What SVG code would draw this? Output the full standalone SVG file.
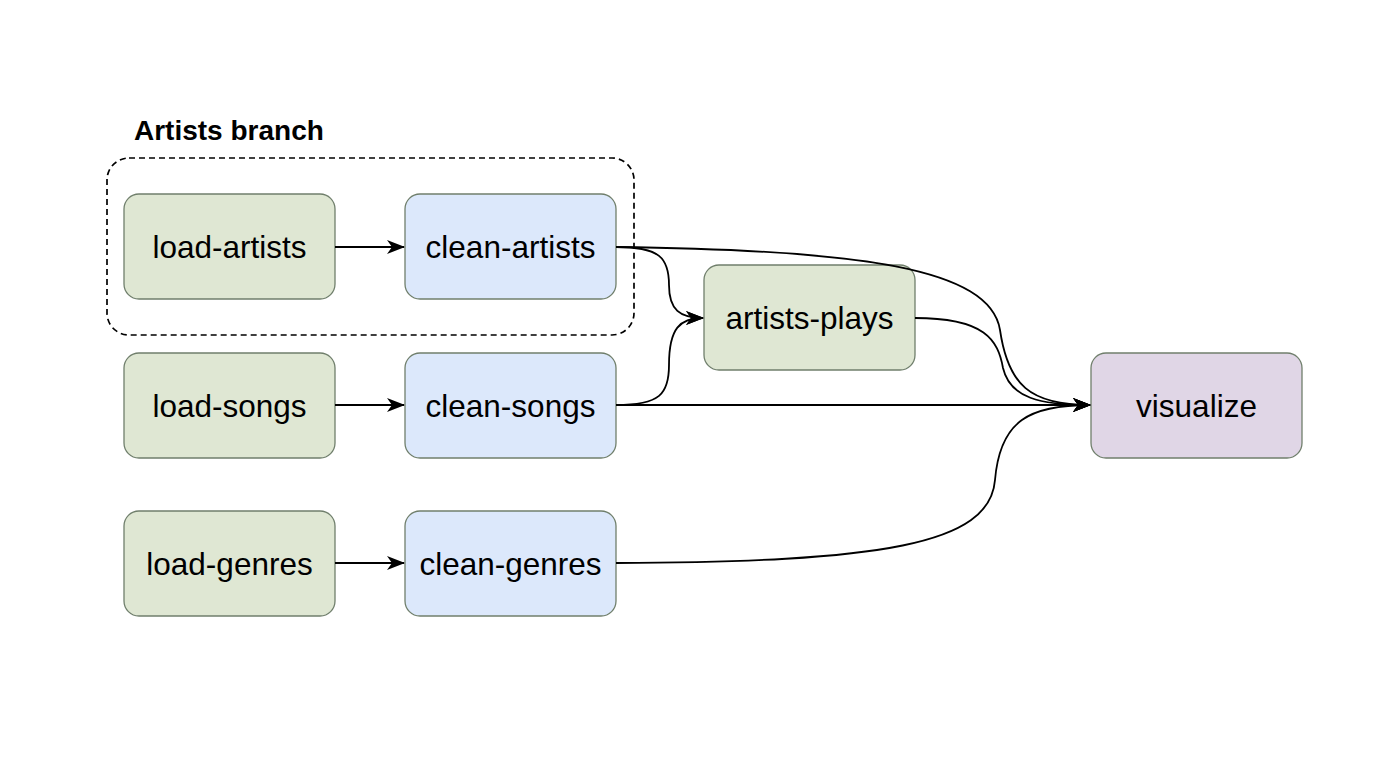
<svg xmlns="http://www.w3.org/2000/svg" width="1400" height="758" viewBox="0 0 1400 758">
<style>
.node rect{stroke:#707f6c;stroke-width:1.3}
.green rect{fill:#dfe7d3}
.blue rect{fill:#dce8fb}
.purple rect{fill:#e0d6e6}
.node text{font-family:"Liberation Sans",Arial,sans-serif;font-size:31.5px;fill:#000;text-anchor:middle}
.edges path{fill:none;stroke:#000;stroke-width:1.8}
.title{font-family:"Liberation Sans",Arial,sans-serif;font-size:28px;font-weight:bold;fill:#000}
</style>
<defs>
<marker id="arr" viewBox="0 0 18 14" refX="17" refY="7" markerWidth="18" markerHeight="14" markerUnits="userSpaceOnUse" orient="auto">
<path d="M0,0 L18,7 L0,14 L5,7 Z" fill="#000"/>
</marker>
</defs>
<rect width="1400" height="758" fill="#fff"/>
<g id="artists-branch">
<rect x="107" y="158" width="527" height="177" rx="22" fill="none" stroke="#000" stroke-width="1.7" stroke-dasharray="6,4"/>
<text class="title" x="134" y="140">Artists branch</text>
</g>
<g id="load-artists" class="node green"><rect x="124" y="194" width="211" height="105" rx="15"/><text x="229.5" y="258">load-artists</text></g>
<g id="clean-artists" class="node blue"><rect x="405" y="194" width="211" height="105" rx="15"/><text x="510.5" y="258">clean-artists</text></g>
<g id="artists-plays" class="node green"><rect x="704" y="265" width="211" height="105" rx="15"/><text x="809.5" y="329">artists-plays</text></g>
<g id="load-songs" class="node green"><rect x="124" y="353" width="211" height="105" rx="15"/><text x="229.5" y="417">load-songs</text></g>
<g id="clean-songs" class="node blue"><rect x="405" y="353" width="211" height="105" rx="15"/><text x="510.5" y="417">clean-songs</text></g>
<g id="visualize" class="node purple"><rect x="1091" y="353" width="211" height="105" rx="15"/><text x="1196.5" y="417">visualize</text></g>
<g id="load-genres" class="node green"><rect x="124" y="511" width="211" height="105" rx="15"/><text x="229.5" y="575">load-genres</text></g>
<g id="clean-genres" class="node blue"><rect x="405" y="511" width="211" height="105" rx="15"/><text x="510.5" y="575">clean-genres</text></g>
<g class="edges">
<path d="M335,247 L404,247" marker-end="url(#arr)"/>
<path d="M335,405 L404,405" marker-end="url(#arr)"/>
<path d="M335,563 L404,563" marker-end="url(#arr)"/>
<path d="M616,247 C 660,247 669,258 669,285 C 669,310 680,318 703,318" marker-end="url(#arr)"/>
<path d="M616,405 C 660,405 669,394 669,365 C 669,328 680,318 703,318" marker-end="url(#arr)"/>
<path d="M616,405 L1090,405" marker-end="url(#arr)"/>
<path d="M616,247 C 860,250 990,268 1000,330 C 1008,385 1030,405 1090,405" marker-end="url(#arr)"/>
<path d="M915,318 C 985,318 998,340 1003,368 C 1010,398 1040,405 1090,405" marker-end="url(#arr)"/>
<path d="M616,563 C 880,562 990,545 995,480 C 1000,420 1030,405 1090,405" marker-end="url(#arr)"/>
</g>
</svg>
